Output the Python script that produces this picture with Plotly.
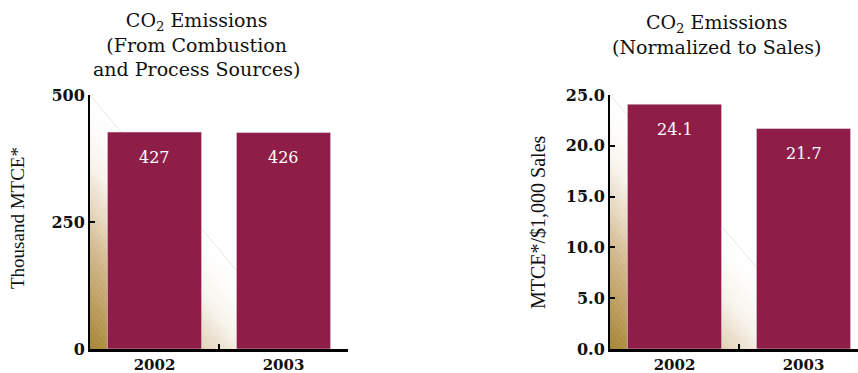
import plotly.graph_objects as go

# ---- data ----
years = ["2002", "2003"]
abs_values = [427, 426]            # Thousand MTCE*
norm_values = [24.1, 21.7]         # MTCE*/$1,000 Sales
abs_ticks = [0, 250, 500]
norm_ticks = [0, 5, 10, 15, 20, 25]

BAR = "#8e1e48"
SERIF = "DejaVu Serif"
TIMES = "Liberation Serif"
W, H = 858, 373

fig = go.Figure()
fig.add_trace(go.Bar(x=years, y=abs_values, marker_color=BAR, xaxis="x", yaxis="y",
                     hoverinfo="skip", showlegend=False))
fig.add_trace(go.Bar(x=years, y=norm_values, marker_color=BAR, xaxis="x2", yaxis="y2",
                     hoverinfo="skip", showlegend=False))

# value labels
ann = []
for xa, ya, vals, fmt in [("x", "y", abs_values, "{:.0f}"), ("x2", "y2", norm_values, "{:.1f}")]:
    for i, v in enumerate(vals):
        ann.append(dict(x=i, y=v, xref=xa, yref=ya, text=fmt.format(v), showarrow=False,
                        xanchor="center", yanchor="middle",
                        yshift=-25, font=dict(family=SERIF, size=16, color="white")))

# titles
ann.append(dict(x=196 / W, y=1 - 45 / H, xref="paper", yref="paper", showarrow=False,
                xanchor="center", yanchor="middle",
                text="CO<sub>2</sub> Emissions<br>(From Combustion<br>and Process Sources)",
                font=dict(family=SERIF, size=19, color="#111"), align="center"))
ann.append(dict(x=716 / W, y=1 - 34 / H, xref="paper", yref="paper", showarrow=False,
                xanchor="center", yanchor="middle",
                text="CO<sub>2</sub> Emissions<br>(Normalized to Sales)",
                font=dict(family=SERIF, size=19, color="#111"), align="center"))
# axis titles
ann.append(dict(x=18 / W, y=1 - 218 / H, xref="paper", yref="paper", showarrow=False,
                xanchor="center", yanchor="middle",
                text="Thousand MTCE*", textangle=-90,
                font=dict(family=TIMES, size=19, color="#111")))
ann.append(dict(x=538 / W, y=1 - 222 / H, xref="paper", yref="paper", showarrow=False,
                xanchor="center", yanchor="middle",
                text="MTCE*/$1,000 Sales", textangle=-90,
                font=dict(family=TIMES, size=20, color="#111")))

# gradient triangle backgrounds (decoration)
stops = [(0.0, (164, 132, 50)), (0.2, (190, 158, 96)), (0.4, (210, 185, 140)),
         (0.58, (232, 218, 196)), (0.74, (248, 244, 236)), (0.9, (254, 253, 251)),
         (1.0, (255, 255, 255))]


def col(t):
    for (t0, c0), (t1, c1) in zip(stops[:-1], stops[1:]):
        if t <= t1:
            f = (t - t0) / (t1 - t0)
            return "rgb(%d,%d,%d)" % tuple(round(a + (b - a) * f) for a, b in zip(c0, c1))
    return "rgb(255,255,255)"


shapes = []
N = 40
for xa, ya, xend, ytop in [("x", "y", 1.143, 500), ("x2", "y2", 1.174, 25)]:
    x0 = -0.5
    for i in range(N):
        ta, tb = i / N, (i + 1) / N
        xa_, xb_ = x0 + ta * (xend - x0), x0 + tb * (xend - x0)
        ya_, yb_ = ta * ytop, tb * ytop
        if i == 0:
            path = f"M {x0},0 L {xb_},0 L {x0},{yb_} Z"
        else:
            path = f"M {xa_},0 L {xb_},0 L {x0},{yb_} L {x0},{ya_} Z"
        c = col((ta + tb) / 2)
        shapes.append(dict(type="path", path=path, xref=xa, yref=ya, fillcolor=c,
                           line=dict(width=0.6, color=c), layer="below"))
    shapes.append(dict(type="line", x0=x0, y0=ytop, x1=xend, y1=0, xref=xa, yref=ya,
                       line=dict(width=1, color="#eee6d8"), layer="below"))

ydom = [1 - 349 / H, 1 - 95 / H]
axis_common = dict(showgrid=False, zeroline=False, showline=True, linecolor="black",
                   tickcolor="black", automargin=False)
tickfont = dict(family=SERIF, size=16, color="#111", weight="bold")
xtickfont = dict(family=SERIF, size=15, color="#111", weight="bold")

fig.update_layout(
    width=W, height=H, margin=dict(l=0, r=0, t=0, b=0, autoexpand=False),
    paper_bgcolor="white", plot_bgcolor="rgba(0,0,0,0)",
    bargap=0.27, showlegend=False,
    xaxis=dict(domain=[90 / W, 348 / W], range=[-0.5, 1.5], type="category",
               ticks="inside", tickson="boundaries", ticklen=5, tickwidth=2, linewidth=2.5,
               tickfont=xtickfont, anchor="y", **axis_common),
    yaxis=dict(domain=ydom, range=[0, 500], tickvals=abs_ticks, ticks="inside",
               ticklen=5, tickwidth=2, linewidth=2, tickfont=tickfont, anchor="x",
               **axis_common),
    xaxis2=dict(domain=[610 / W, 1.0], range=[-0.5, 1.4225], type="category",
                ticks="inside", tickson="boundaries", ticklen=5, tickwidth=2, linewidth=2.5,
                tickfont=xtickfont, anchor="y2", **axis_common),
    yaxis2=dict(domain=ydom, range=[0, 25], tickvals=norm_ticks, tickformat=".1f",
                ticks="inside", ticklen=5, tickwidth=2, linewidth=2, tickfont=tickfont,
                anchor="x2", **axis_common),
    annotations=ann, shapes=shapes,
)

fig.write_html("out.html")
